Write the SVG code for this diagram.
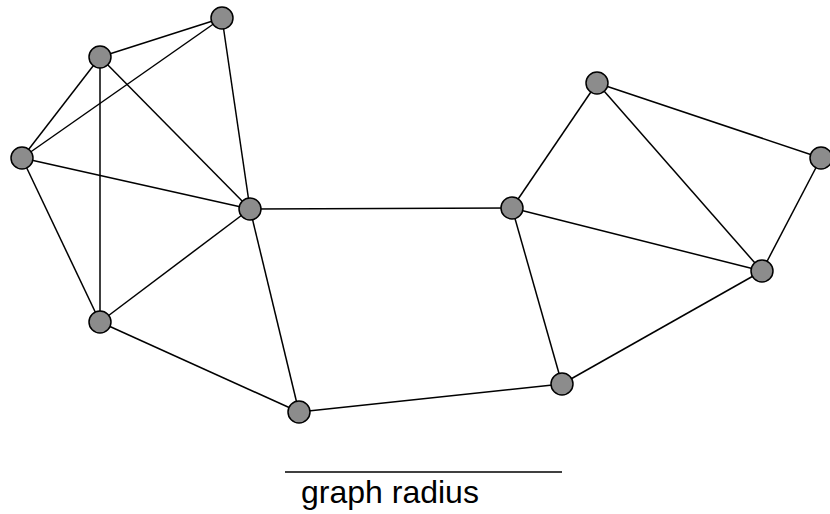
<svg xmlns="http://www.w3.org/2000/svg" width="830" height="514" viewBox="0 0 830 514">
<style>
.e{stroke:#000;stroke-width:1.5;fill:none}
.n{fill:#8c8c8c;stroke:#000;stroke-width:1.5}
.t{font-family:"Liberation Sans",Arial,sans-serif;font-size:32px;fill:#000}
</style>
<rect width="830" height="514" fill="#fff"/>
<g id="connectors" class="e">
<line x1="100" y1="57" x2="222" y2="18"/>
<line x1="100" y1="57" x2="22" y2="158"/>
<line x1="100" y1="57" x2="100" y2="322"/>
<line x1="100" y1="57" x2="250" y2="209"/>
<line x1="222" y1="18" x2="22" y2="158"/>
<line x1="222" y1="18" x2="250" y2="209"/>
<line x1="22" y1="158" x2="250" y2="209"/>
<line x1="22" y1="158" x2="100" y2="322"/>
<line x1="100" y1="322" x2="250" y2="209"/>
<line x1="250" y1="209" x2="299" y2="412"/>
<line x1="250" y1="209" x2="512" y2="208"/>
<line x1="100" y1="322" x2="299" y2="412"/>
<line x1="299" y1="412" x2="562" y2="384"/>
<line x1="512" y1="208" x2="597" y2="83"/>
<line x1="512" y1="208" x2="762" y2="271"/>
<line x1="512" y1="208" x2="562" y2="384"/>
<line x1="597" y1="83" x2="821" y2="158"/>
<line x1="597" y1="83" x2="762" y2="271"/>
<line x1="821" y1="158" x2="762" y2="271"/>
<line x1="762" y1="271" x2="562" y2="384"/>
</g>
<g id="nA"><circle class="n" cx="100" cy="57" r="11"/></g>
<g id="nB"><circle class="n" cx="222" cy="18" r="11"/></g>
<g id="nC"><circle class="n" cx="22" cy="158" r="11"/></g>
<g id="nD"><circle class="n" cx="250" cy="209" r="11"/></g>
<g id="nE"><circle class="n" cx="100" cy="322" r="11"/></g>
<g id="nF"><circle class="n" cx="299" cy="412" r="11"/></g>
<g id="nG"><circle class="n" cx="512" cy="208" r="11"/></g>
<g id="nH"><circle class="n" cx="597" cy="83" r="11"/></g>
<g id="nI"><circle class="n" cx="821" cy="158" r="11"/></g>
<g id="nJ"><circle class="n" cx="762" cy="271" r="11"/></g>
<g id="nK"><circle class="n" cx="562" cy="384" r="11"/></g>
<g id="legend">
<line x1="285" y1="472" x2="562" y2="472" stroke="#000" stroke-width="1.5"/>
<text class="t" x="301" y="503">graph radius</text>
</g>
</svg>
